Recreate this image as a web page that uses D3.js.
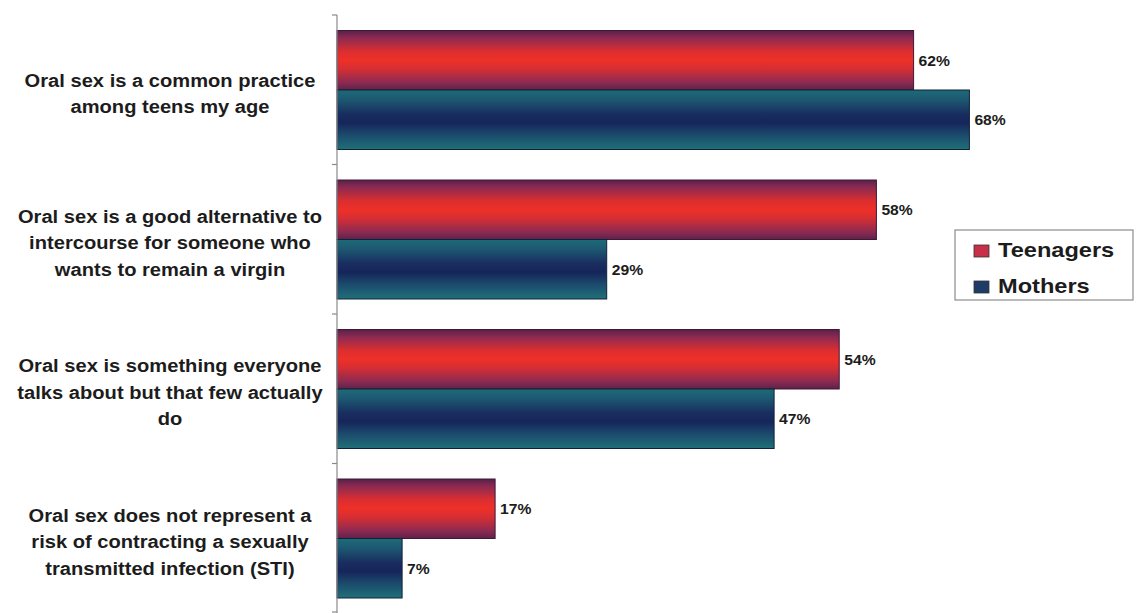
<!DOCTYPE html>
<html>
<head>
<meta charset="utf-8">
<script src="https://cdn.jsdelivr.net/npm/d3@7"></script>
<style>
  html, body { margin: 0; padding: 0; background: #ffffff; }
  svg { display: block; }
  text { font-family: Arial, "Liberation Sans", sans-serif; font-weight: bold; fill: #1c1c1c; }
</style>
</head>
<body>
<svg id="chart" width="1137" height="613"></svg>
<script>
// ---- data ----
const categories = [
  "Oral sex is a common practice among teens my age",
  "Oral sex is a good alternative to intercourse for someone who wants to remain a virgin",
  "Oral sex is something everyone talks about but that few actually do",
  "Oral sex does not represent a risk of contracting a sexually transmitted infection (STI)"
];
const categoryLines = [
  ["Oral sex is a common practice", "among teens my age"],
  ["Oral sex is a good alternative to", "intercourse for someone who", "wants to remain a virgin"],
  ["Oral sex is something everyone", "talks about but that few actually", "do"],
  ["Oral sex does not represent a", "risk of contracting a sexually", "transmitted infection (STI)"]
];
const seriesNames = ["Teenagers", "Mothers"];
const teenagers = [62, 58, 54, 17];
const mothers = [68, 29, 47, 7];

// ---- layout ----
const svg = d3.select("#chart");
const axisX = 337;
const stretch = 1.06;

const x = d3.scaleLinear().domain([0, 80]).range([axisX, axisX + 80 * 9.3]);
const y0 = d3.scaleBand().domain(categories).range([15, 613]).padding(0);
const y1 = d3.scaleBand().domain(seriesNames).range([15.5, y0.bandwidth() - 15]).padding(0);

const defs = svg.append("defs");
const gRed = defs.append("linearGradient").attr("id", "gradRed").attr("x1", 0).attr("y1", 0).attr("x2", 0).attr("y2", 1);
[[0, "#5a2048"], [0.12, "#8a2a52"], [0.35, "#dc2e30"], [0.5, "#ee3028"], [0.65, "#d42e34"], [0.88, "#8a2a52"], [1, "#5e2248"]]
  .forEach(s => gRed.append("stop").attr("offset", s[0]).attr("stop-color", s[1]));
const gBlue = defs.append("linearGradient").attr("id", "gradBlue").attr("x1", 0).attr("y1", 0).attr("x2", 0).attr("y2", 1);
[[0, "#1d6a78"], [0.15, "#1d5a72"], [0.4, "#192e60"], [0.55, "#16255a"], [0.75, "#1b4a6c"], [1, "#207078"]]
  .forEach(s => gBlue.append("stop").attr("offset", s[0]).attr("stop-color", s[1]));

const fills = { "Teenagers": "url(#gradRed)", "Mothers": "url(#gradBlue)" };
const strokes = { "Teenagers": "#3e1838", "Mothers": "#10223a" };

const rows = categories.map((c, i) => ({ cat: c, lines: categoryLines[i], vals: [teenagers[i], mothers[i]] }));

const groups = svg.append("g").selectAll("g.grp").data(rows).join("g")
  .attr("class", "grp")
  .attr("transform", d => `translate(0,${y0(d.cat)})`);

groups.selectAll("rect").data(d => d.vals.map((v, j) => ({ s: seriesNames[j], v })))
  .join("rect")
  .attr("x", x(0))
  .attr("y", d => y1(d.s))
  .attr("width", d => x(d.v) - x(0))
  .attr("height", y1.bandwidth())
  .attr("fill", d => fills[d.s])
  .attr("stroke", d => strokes[d.s])
  .attr("stroke-width", 1);

groups.selectAll("text.val").data(d => d.vals.map((v, j) => ({ s: seriesNames[j], v })))
  .join("text")
  .attr("class", "val")
  .attr("transform", d => `translate(${x(d.v) + 5},${y1(d.s) + y1.bandwidth() / 2 + 2}) scale(1.12,1)`)
  .attr("dominant-baseline", "middle")
  .style("font-size", "14px")
  .text(d => d.v + "%");

// category labels
const labelX = 170;
const lineH = 26.5;
groups.each(function (d) {
  const n = d.lines.length;
  const cy = y0.bandwidth() / 2 + 5;
  d3.select(this).selectAll("text.cat").data(d.lines).join("text")
    .attr("class", "cat")
    .attr("transform", (l, k) => `translate(${labelX},${cy + (k - (n - 1) / 2) * lineH}) scale(${stretch},1)`)
    .attr("text-anchor", "middle")
    .attr("dominant-baseline", "middle")
    .style("font-size", "19px")
    .text(l => l);
});

// axis line with ticks at band edges
const axisG = svg.append("g");
axisG.append("line").attr("x1", axisX).attr("x2", axisX).attr("y1", y0.range()[0]).attr("y2", y0.range()[1])
  .attr("stroke", "#8a8a8a").attr("stroke-width", 1.2);
const tickYs = categories.map(c => y0(c)).concat([y0.range()[1] - 1]);
axisG.selectAll("line.tick").data(tickYs).join("line")
  .attr("class", "tick")
  .attr("x1", axisX - 5).attr("x2", axisX).attr("y1", d => d).attr("y2", d => d)
  .attr("stroke", "#8a8a8a").attr("stroke-width", 1.2);

// legend
const legend = svg.append("g");
legend.append("rect").attr("x", 955).attr("y", 230).attr("width", 178).attr("height", 70)
  .attr("fill", "#ffffff").attr("stroke", "#8c8c8c").attr("stroke-width", 1.2);
const legendFill = { "Teenagers": "#c8304a", "Mothers": "#1e3c66" };
const legendY = d3.scalePoint().domain(seriesNames).range([251, 287]);
seriesNames.forEach(s => {
  legend.append("rect").attr("x", 974).attr("y", legendY(s) - 6).attr("width", 15).attr("height", 12)
    .attr("fill", legendFill[s]).attr("stroke", "#333").attr("stroke-width", 0.8);
  legend.append("text")
    .attr("transform", `translate(998,${legendY(s) + 1}) scale(1.18,1)`)
    .attr("dominant-baseline", "middle")
    .style("font-size", "20px")
    .text(s);
});
</script>
</body>
</html>
